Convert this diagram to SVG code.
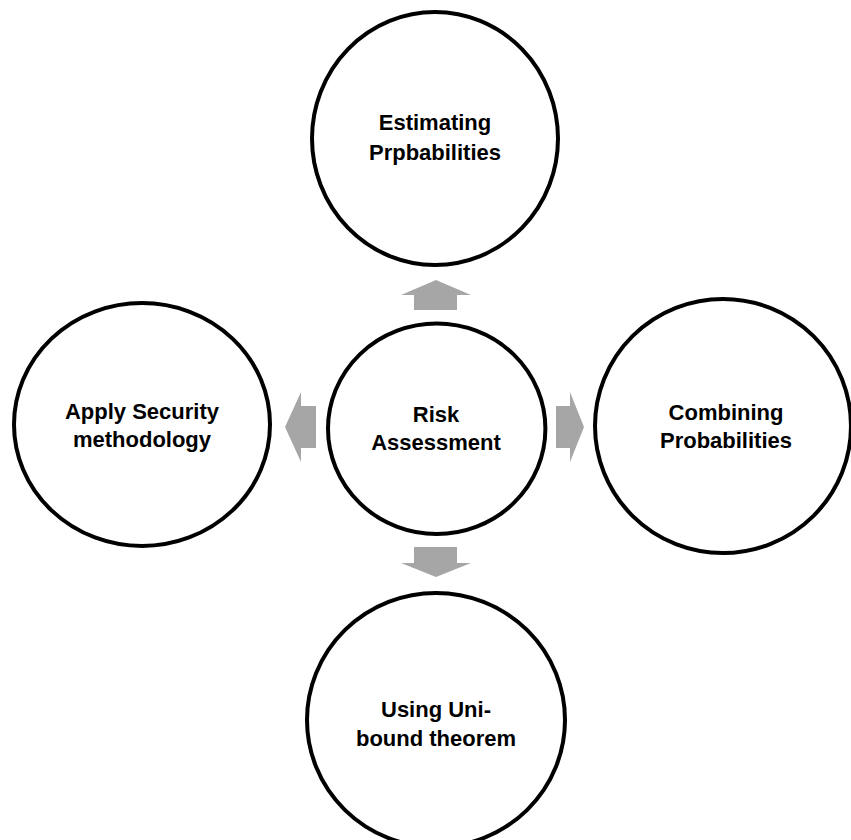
<svg xmlns="http://www.w3.org/2000/svg" width="851" height="840" viewBox="0 0 851 840">
  <style>
    .node { fill: #ffffff; stroke: #000000; stroke-width: 4; }
    .label { font-family: "Liberation Sans", Arial, sans-serif; font-weight: bold; font-size: 22px; fill: #000000; text-anchor: middle; }
    .arrow { fill: #a6a6a6; stroke: none; }
  </style>
  <rect x="0" y="0" width="851" height="840" fill="#ffffff"/>

  <!-- block arrows pointing outward from the centre -->
  <g id="connectors">
    <polygon class="arrow" points="414,310 414,295 401,295 436,280 471,295 457,295 457,310"/>
    <polygon class="arrow" points="414,547 457,547 457,563 471,563 436,577 401,563 414,563"/>
    <polygon class="arrow" points="316,406 316,448 301,448 301,462 285,427 301,392 301,406"/>
    <polygon class="arrow" points="556,406 556,448 570,448 570,462 584,427 570,392 570,406"/>
  </g>

  <g id="node-estimating">
    <ellipse class="node" cx="435" cy="138.5" rx="123" ry="126.5"/>
    <text class="label" x="435" y="130">Estimating</text>
    <text class="label" x="435" y="160">Prpbabilities</text>
  </g>

  <g id="node-apply-security">
    <ellipse class="node" cx="142" cy="424.5" rx="128" ry="121.5"/>
    <text class="label" x="142" y="419">Apply Security</text>
    <text class="label" x="142" y="447">methodology</text>
  </g>

  <g id="node-combining">
    <ellipse class="node" cx="723" cy="426" rx="128" ry="127"/>
    <text class="label" x="726" y="420">Combining</text>
    <text class="label" x="726" y="448">Probabilities</text>
  </g>

  <g id="node-uni-bound">
    <ellipse class="node" cx="436" cy="720" rx="129" ry="127"/>
    <text class="label" x="436" y="717">Using Uni-</text>
    <text class="label" x="436" y="746">bound theorem</text>
  </g>

  <g id="node-risk-assessment">
    <ellipse class="node" cx="436.7" cy="428.8" rx="108.7" ry="105.2"/>
    <text class="label" x="436" y="422">Risk</text>
    <text class="label" x="436" y="450">Assessment</text>
  </g>
</svg>
